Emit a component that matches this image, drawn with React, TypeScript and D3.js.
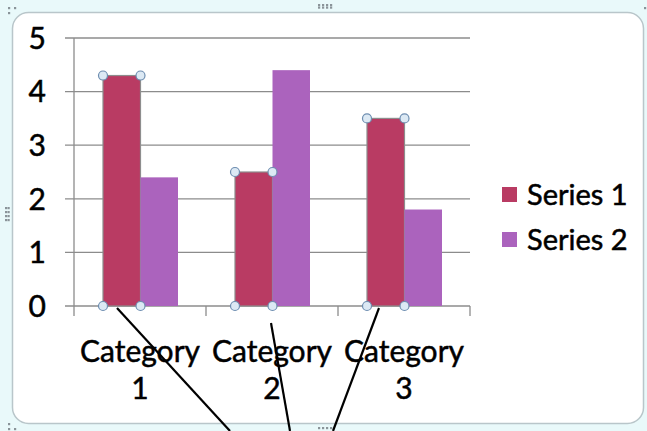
import React from "react";
import * as d3 from "d3";

const categories = ["Category 1", "Category 2", "Category 3"];
const seriesNames = ["Series 1", "Series 2"];
const series1 = [4.3, 2.5, 3.5];
const series2 = [2.4, 4.4, 1.8];
const yTicks = [0, 1, 2, 3, 4, 5];
const colors = ["#b93b63", "#ab63bd"];

const W = 647;
const H = 431;
const FONT = "Lato, 'Open Sans', sans-serif";
const TEXT_STROKE = { stroke: "#000", strokeWidth: 0.5 };

export default function App() {
  const y = d3.scaleLinear().domain([0, 5]).range([306, 38]);
  const x0 = d3.scaleBand<string>().domain(categories).range([74, 470]).padding(0);
  const x1 = d3
    .scaleBand<string>()
    .domain(seriesNames)
    .range([29, x0.bandwidth() - 28])
    .padding(0);
  const values = [series1, series2];

  const bars: any[] = [];
  categories.forEach((c, ci) => {
    seriesNames.forEach((s, si) => {
      const v = values[si][ci];
      bars.push({ c, s, si, v, x: (x0(c) as number) + (x1(s) as number), w: x1.bandwidth() });
    });
  });

  const handleR = 4.5;
  const s1Bars = bars.filter((b) => b.si === 0);

  // callout lines (annotation), anchored to series 1 bars
  const callouts = [
    { from: [x0(categories[0])! + 43, y(0) + 2], to: [230, H] },
    { from: [x0(categories[1])! + 65, y(0) + 17], to: [290, H] },
    { from: [x0(categories[2])! + 41, y(0) + 2], to: [333, H] },
  ];

  const dot = (cx: number, cy: number, k: string) => (
    <rect key={k} x={cx - 1} y={cy - 1} width={2.2} height={2.2} fill="#8a9499" />
  );

  return (
    <svg
      width={W}
      height={H}
      style={{ position: "absolute", left: 0, top: 0, display: "block" }}
    >
      <rect x={0} y={0} width={W} height={H} fill="#e9f9fa" />
      <rect x={12.5} y={12.5} width={631} height={411} rx={16} ry={16} fill="#ffffff" stroke="#b9c6ca" strokeWidth={1.5} />

      {/* grips */}
      {dot(9, 8, "g1")}
      {dot(15, 8, "g2")}
      {dot(9, 13, "g3")}
      {[319, 323, 327, 331].map((xx, i) => dot(xx, 5, "t" + i))}
      {[319, 323, 327, 331].map((xx, i) => dot(xx, 7.5, "tb" + i))}
      {[208, 212, 216, 220].map((yy, i) => dot(6, yy, "l" + i))}
      {[208, 212, 216, 220].map((yy, i) => dot(8.5, yy, "lb" + i))}
      {[319, 323, 327, 331].map((xx, i) => dot(xx, 428, "b" + i))}
      {dot(9, 424, "bl1")}
      {dot(9, 429, "bl2")}
      {dot(15, 429, "bl3")}
      {dot(645, 8, "tr1")}

      {/* gridlines */}
      {yTicks.map((t) => (
        <g key={t}>
          <line x1={65} x2={470} y1={y(t)} y2={y(t)} stroke="#8c8c8c" strokeWidth={1.3} />
          <text
            x={46}
            y={y(t)}
            dy="0.36em"
            textAnchor="end"
            fontFamily={FONT}
            fontSize={30}
            fill="#000"
            {...TEXT_STROKE}
          >
            {t}
          </text>
        </g>
      ))}
      <line x1={74} x2={74} y1={38} y2={306} stroke="#8c8c8c" strokeWidth={1.3} />
      {[...categories.map((c) => x0(c) as number), 470].map((xx, i) => (
        <line key={i} x1={xx} x2={xx} y1={306} y2={316} stroke="#8c8c8c" strokeWidth={1.3} />
      ))}

      {/* bars */}
      {bars.map((b, i) => (
        <rect
          key={i}
          x={b.x}
          y={y(b.v)}
          width={b.w}
          height={y(0) - y(b.v)}
          fill={colors[b.si]}
          stroke={b.si === 0 ? "#8d8d8d" : "none"}
          strokeWidth={1.2}
        />
      ))}

      {/* selection handles */}
      {s1Bars.map((b, i) =>
        [
          [b.x, y(b.v)],
          [b.x + b.w, y(b.v)],
          [b.x, y(0)],
          [b.x + b.w, y(0)],
        ].map((p, j) => (
          <circle
            key={i + "-" + j}
            cx={p[0]}
            cy={p[1]}
            r={handleR}
            fill="#dce9f4"
            stroke="#6d8db0"
            strokeWidth={1.2}
          />
        ))
      )}

      {/* category labels */}
      {categories.map((c) => {
        const parts = c.split(" ");
        const cx = (x0(c) as number) + x0.bandwidth() / 2;
        return (
          <text key={c} textAnchor="middle" fontFamily={FONT} fontSize={30} fill="#000" {...TEXT_STROKE}>
            <tspan x={cx} y={362}>{parts[0]}</tspan>
            <tspan x={cx} y={398.5}>{parts[1]}</tspan>
          </text>
        );
      })}

      {/* legend */}
      {seriesNames.map((s, i) => (
        <g key={s} transform={`translate(502, ${187 + i * 45})`}>
          <rect x={0} y={0} width={15} height={15} fill={colors[i]} />
          <text x={25} y={7.5} dy="0.36em" fontFamily={FONT} fontSize={29} fill="#000" {...TEXT_STROKE}>
            {s}
          </text>
        </g>
      ))}

      {/* callout lines */}
      {callouts.map((c, i) => (
        <line key={i} x1={c.from[0]} y1={c.from[1]} x2={c.to[0]} y2={c.to[1]} stroke="#000" strokeWidth={2.2} />
      ))}
    </svg>
  );
}
